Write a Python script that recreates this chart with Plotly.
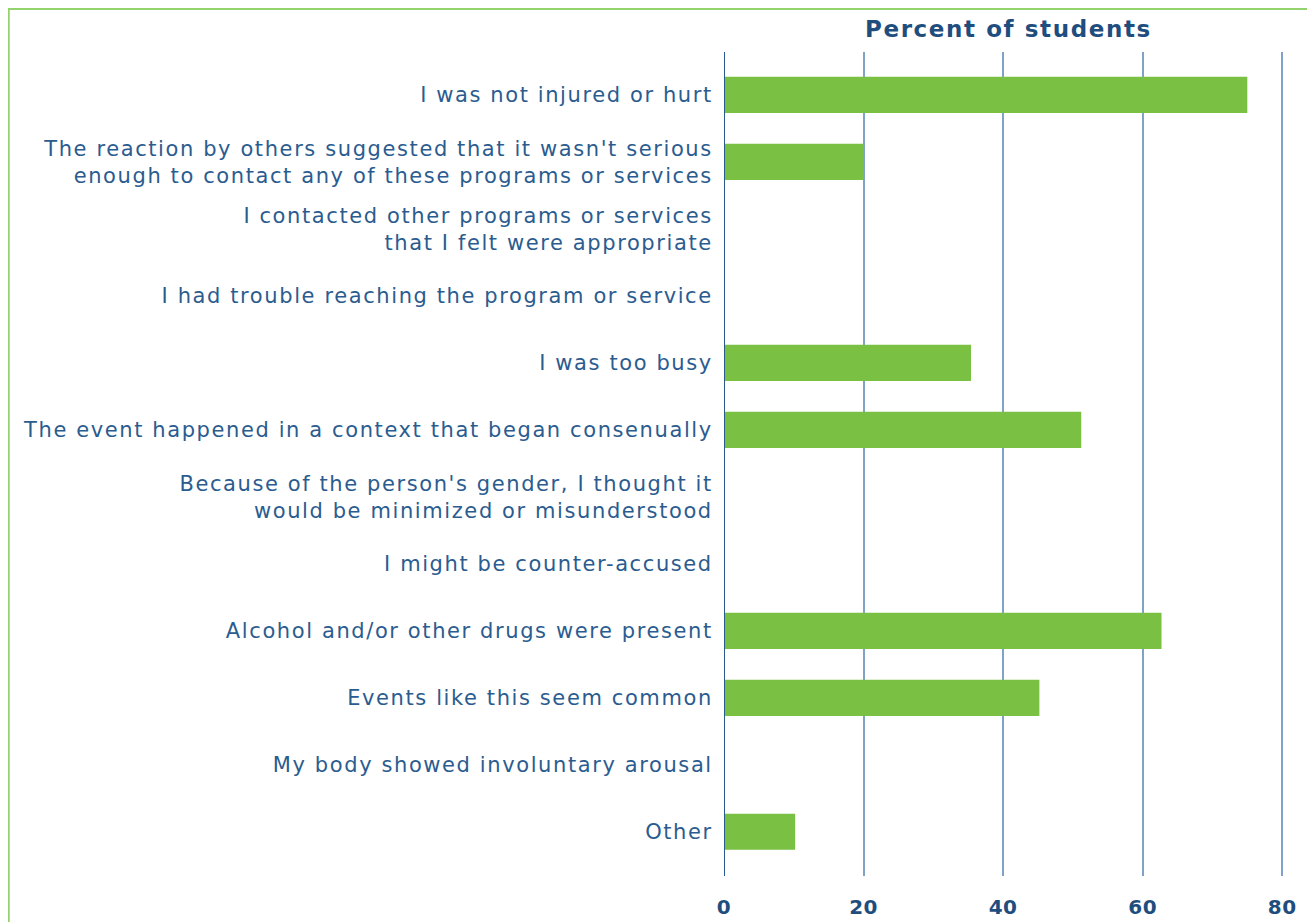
import plotly.graph_objects as go

categories = [
    "I was not injured or hurt",
    "The reaction by others suggested that it wasn't serious<br>enough to contact any of these programs or services",
    "I contacted other programs or services<br>that I felt were appropriate",
    "I had trouble reaching the program or service",
    "I was too busy",
    "The event happened in a context that began consenually",
    "Because of the person's gender, I thought it<br>would be minimized or misunderstood",
    "I might be counter-accused",
    "Alcohol and/or other drugs were present",
    "Events like this seem common",
    "My body showed involuntary arousal",
    "Other",
]
values = [75.0, 20.0, None, None, 35.4, 51.2, None, None, 62.7, 45.2, None, 10.2]
x_ticks = [0, 20, 40, 60, 80]
title_text = "Percent of students"

OFF = 8  # browser body margin
W, H = 1315 - OFF, 922 - OFF
X0PX, X80PX = 724 - OFF, 1282 - OFF
XMAX = 80.4
L = X0PX
R = X0PX + (X80PX - X0PX) * XMAX / 80
T, B = 52 - OFF, 876 - OFF

positions = list(range(len(categories)))


def spaced(text, ls):
    return "<br>".join(f'<span style="letter-spacing:{ls}px">{part}</span>' for part in text.split("<br>"))


fig = go.Figure(go.Bar(
    x=values, y=positions, orientation="h",
    marker=dict(color="#7ac143", line=dict(width=0)),
    width=0.54,
    hoverinfo="x",
))

label_color = "#2b5c8f"
dark = "#1f4e7e"
FONT = "DejaVu Sans, Verdana, sans-serif"

fig.update_layout(
    width=W, height=H,
    margin=dict(l=L, r=W - R, t=T, b=H - B, pad=0, autoexpand=False),
    paper_bgcolor="white", plot_bgcolor="white",
    showlegend=False,
    font=dict(family=FONT, color=label_color),
    xaxis=dict(
        range=[0, XMAX], tickvals=x_ticks,
        ticktext=[spaced(str(v), 0.5) for v in x_ticks],
        showgrid=True, gridcolor="#80a2c6", gridwidth=2,
        zeroline=False, showline=False, automargin=False,
        ticks="outside", ticklen=13, tickcolor="rgba(0,0,0,0)",
        tickfont=dict(size=20, color=dark, family=FONT, weight="bold"),
        fixedrange=True,
    ),
    yaxis=dict(
        range=[11.66, -0.64], tickvals=positions,
        ticktext=[spaced(c, 1.6) for c in categories],
        showgrid=False, zeroline=False, showline=False, automargin=False,
        ticks="outside", ticklen=6, tickcolor="rgba(0,0,0,0)",
        tickfont=dict(size=21, color=label_color),
        fixedrange=True,
    ),
    shapes=[
        dict(type="line", xref="x", yref="paper", x0=0, x1=0, y0=0, y1=1,
             line=dict(color="#2a5a8c", width=2), layer="above"),
        dict(type="rect", xref="paper", yref="paper",
             x0=(1 - L) / (R - L), x1=(1308 - OFF - L) / (R - L),
             y0=(B - (H + 20)) / (B - T), y1=1 + (T - 1) / (B - T),
             line=dict(color="#92d36e", width=2), fillcolor="rgba(0,0,0,0)", layer="below"),
    ],
    annotations=[
        dict(text="<b>" + spaced(title_text, 1.6) + "</b>", xref="paper", yref="paper",
             x=(1008 - OFF - L) / (R - L), y=1 + (T - (29 - OFF)) / (B - T),
             xanchor="center", yanchor="middle",
             showarrow=False, font=dict(size=23, color=dark)),
    ],
)

fig.write_html("out.html")
